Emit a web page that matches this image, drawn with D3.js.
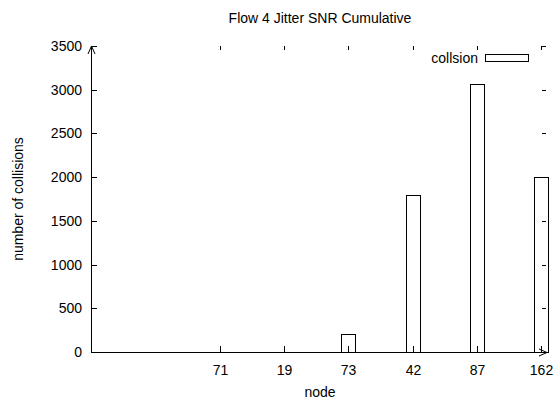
<!DOCTYPE html>
<html>
<head>
<meta charset="utf-8">
<script src="https://cdn.jsdelivr.net/npm/d3@7"></script>
<style>
  body { margin: 0; background: #fff; }
  text { font-family: "Liberation Sans", Arial, sans-serif; fill: #000; }
</style>
</head>
<body>
<div id="chart"></div>
<script>
// data
var nodes = ["71", "19", "73", "42", "87", "162"];
var collisions = [0, 0, 210, 1800, 3060, 2000];
var yTicks = [0, 500, 1000, 1500, 2000, 2500, 3000, 3500];
var seriesName = "collsion";

var width = 555,
    height = 400;
var plotL = 91, plotR = 546, plotT = 46, plotB = 352;
var fontSize = 14;

var svg = d3.select("#chart")
  .append("svg")
    .attr("width", width)
    .attr("height", height);

// nodes sit at slots 2..7 of an axis that runs 0..7.07
var x = d3.scaleLinear().domain([-2, 5.07]).range([plotL, plotR]);
var y = d3.scaleLinear().domain([0, 3500]).range([plotB, plotT]);
var boxW = Math.round(0.21 * (x(1) - x(0)));

var g = svg.append("g").attr("shape-rendering", "crispEdges");

// bars
g.selectAll("rect.bar")
  .data(collisions)
  .enter()
  .append("rect")
    .attr("class", "bar")
    .attr("x", function(d, i) { return Math.round(x(i) - boxW / 2) + 0.5; })
    .attr("y", function(d) { return Math.round(y(d)) + 0.5; })
    .attr("width", boxW)
    .attr("height", function(d) { return Math.round(y(0) - y(d)); })
    .attr("fill", "#fff")
    .attr("stroke", "#000")
    .attr("stroke-width", 1);

// y ticks (left, inward) + mirror on the right
yTicks.forEach(function(t) {
  var yy = Math.round(y(t)) + 0.5;
  g.append("line").attr("x1", plotL).attr("x2", plotL + 6).attr("y1", yy).attr("y2", yy).attr("stroke", "#000");
  g.append("line").attr("x1", plotR - 4).attr("x2", plotR).attr("y1", yy).attr("y2", yy).attr("stroke", "#000");
  svg.append("text")
    .attr("x", plotL - 9)
    .attr("y", yy)
    .attr("dy", "0.35em")
    .attr("text-anchor", "end")
    .style("font-size", fontSize + "px")
    .text(t);
});

// x ticks (bottom, inward) + mirror on top
nodes.forEach(function(n, i) {
  var xx = Math.round(x(i)) + 0.5;
  g.append("line").attr("x1", xx).attr("x2", xx).attr("y1", plotB).attr("y2", plotB - 6).attr("stroke", "#000");
  g.append("line").attr("x1", xx).attr("x2", xx).attr("y1", plotT).attr("y2", plotT + 4).attr("stroke", "#000");
  svg.append("text")
    .attr("x", xx)
    .attr("y", plotB + 23)
    .attr("text-anchor", "middle")
    .style("font-size", fontSize + "px")
    .text(n);
});

// axes with arrow heads
g.append("line").attr("x1", plotL + 0.5).attr("x2", plotL + 0.5).attr("y1", plotB).attr("y2", plotT).attr("stroke", "#000");
g.append("line").attr("x1", plotL).attr("x2", plotR + 1).attr("y1", plotB + 0.5).attr("y2", plotB + 0.5).attr("stroke", "#000");
svg.append("path")
  .attr("d", "M" + (plotL - 3) + "," + (plotT + 8) + "L" + (plotL + 0.5) + "," + plotT + "L" + (plotL + 4) + "," + (plotT + 8))
  .attr("fill", "none").attr("stroke", "#000");
svg.append("path")
  .attr("d", "M" + (plotR - 7) + "," + (plotB - 3) + "L" + (plotR + 1) + "," + (plotB + 0.5) + "L" + (plotR - 7) + "," + (plotB + 4))
  .attr("fill", "none").attr("stroke", "#000");

// legend
svg.append("text")
  .attr("x", 478)
  .attr("y", 58)
  .attr("dy", "0.35em")
  .attr("text-anchor", "end")
  .style("font-size", fontSize + "px")
  .text(seriesName);
g.append("rect")
  .attr("x", 485.5).attr("y", 54.5)
  .attr("width", 43).attr("height", 7)
  .attr("fill", "#fff").attr("stroke", "#000");

// titles
svg.append("text")
  .attr("x", 320)
  .attr("y", 18)
  .attr("dy", "0.35em")
  .attr("text-anchor", "middle")
  .style("font-size", fontSize + "px")
  .text("Flow 4 Jitter SNR Cumulative");

svg.append("text")
  .attr("x", 320)
  .attr("y", 392)
  .attr("dy", "0.35em")
  .attr("text-anchor", "middle")
  .style("font-size", fontSize + "px")
  .text("node");

svg.append("text")
  .attr("transform", "translate(18," + (plotT + plotB) / 2 + ") rotate(-90)")
  .attr("dy", "0.35em")
  .attr("text-anchor", "middle")
  .style("font-size", fontSize + "px")
  .text("number of collisions");
</script>
</body>
</html>
